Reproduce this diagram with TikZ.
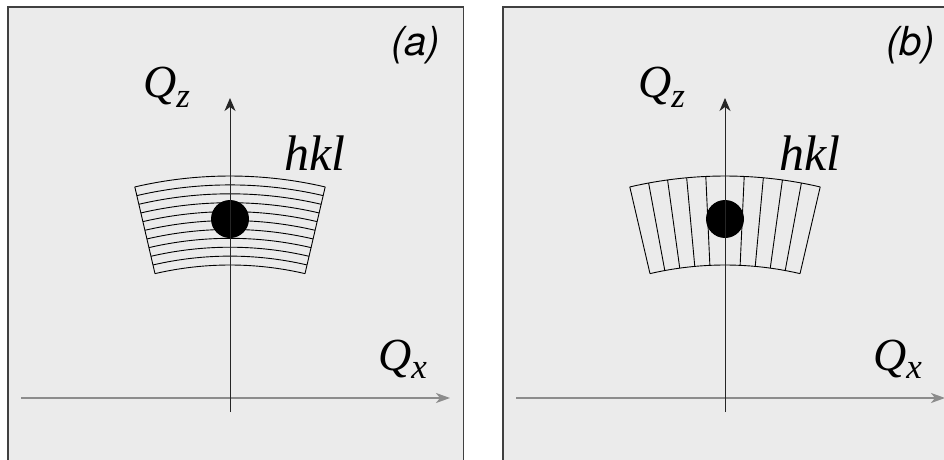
\documentclass[tikz,border=0pt]{standalone}
\usepackage{fontspec}
\newfontfamily\serifit{Liberation Serif Italic}
\newfontfamily\panelfont{TeX Gyre Heros Italic}
\usetikzlibrary{arrows.meta, positioning, calc}

\begin{document}
\begin{tikzpicture}[
    x=1pt, y=1pt,
    panel/.style={draw=black!75, line width=1.8pt, fill=black!8},
    qaxis/.style={draw=black!45, line width=2pt, -{Stealth[length=14pt, width=10pt, inset=4pt]}},
    zaxis/.style={draw=black!85, line width=1pt, -{Stealth[length=13pt, width=11pt, inset=4pt]}},
    grid/.style={draw=black, line width=0.9pt},
    peak/.style={circle, fill=black, inner sep=0pt, minimum size=38pt},
    axlabel/.style={font=\fontsize{46}{50}\serifit, anchor=base west, inner sep=0pt},
    reflabel/.style={font=\fontsize{50}{55}\serifit, anchor=base west, inner sep=0pt},
    tag/.style={font=\fontsize{40}{44}\panelfont, anchor=base west, inner sep=0pt}
]

    \useasboundingbox (0,0) rectangle (944,459);
    \clip (0,0) rectangle (944,459);

    % Panel (a): lattice planes parallel to the surface
    \path[panel] (8,452) rectangle (463.5,-20);

    \begin{scope}[shift={(230,-137)}]
        \foreach \r in {0,...,10}
            \draw[grid] (103.1:331+8.9*\r) arc[start angle=103.1, end angle=76.9, radius=331+8.9*\r];
        \draw[grid] (103.1:331) -- (103.1:420);
        \draw[grid] (76.9:331) -- (76.9:420);
    \end{scope}

    \node (peaka) [peak] at (230,240) {};

    \coordinate (xa0) at (21,61);
    \coordinate (xa1) at (450,61);
    \coordinate (za0) at (230,47);
    \coordinate (za1) at (230,361);
    \draw[qaxis] (xa0) -- (xa1);
    \draw[zaxis] (za0) -- (za1);

    \node (qza) [axlabel] at (143,362) {Q\raisebox{-10pt}{\fontsize{35}{40}\selectfont z}};
    \node (hkla) [reflabel] at (284,289) {hkl};
    \node (qxa) [axlabel] at (378,89) {Q\raisebox{-8pt}{\fontsize{35}{40}\selectfont x}};
    \node (taga) [tag] at (391,403) {(a)};

    % Panel (b): lattice planes perpendicular to the surface
    \begin{scope}[xshift=495]
        \path[panel] (8,452) rectangle (470,-20);

        \begin{scope}[shift={(230,-137)}]
            \draw[grid] (103.1:331) arc[start angle=103.1, end angle=76.9, radius=331];
            \draw[grid] (103.1:420) arc[start angle=103.1, end angle=76.9, radius=420];
            \foreach \k in {-5,...,5}
                \draw[grid] (90+2.62*\k:331) -- (90+2.62*\k:420);
        \end{scope}

        \node (peakb) [peak] at (230,240) {};

        \coordinate (xb0) at (21,61);
        \coordinate (xb1) at (450,61);
        \coordinate (zb0) at (230,47);
        \coordinate (zb1) at (230,361);
        \draw[qaxis] (xb0) -- (xb1);
        \draw[zaxis] (zb0) -- (zb1);

        \node (qzb) [axlabel] at (143,362) {Q\raisebox{-10pt}{\fontsize{35}{40}\selectfont z}};
        \node (hklb) [reflabel] at (284,289) {hkl};
        \node (qxb) [axlabel] at (378,89) {Q\raisebox{-8pt}{\fontsize{35}{40}\selectfont x}};
        \node (tagb) [tag] at (391,403) {(b)};
    \end{scope}

\end{tikzpicture}
\end{document}
